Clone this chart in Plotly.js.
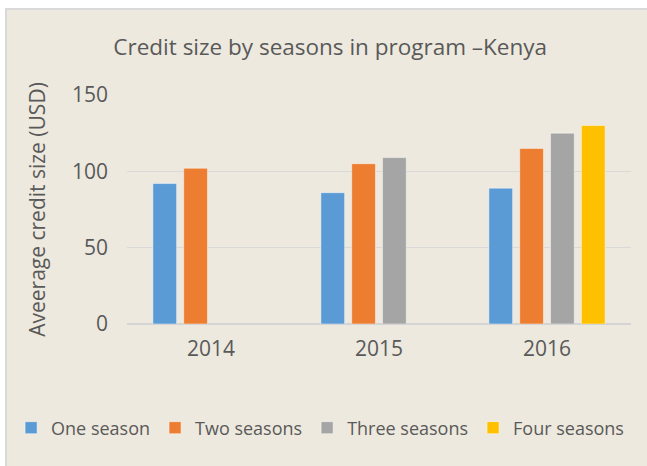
<!DOCTYPE html>
<html>
<head>
<meta charset="utf-8">
<script src="https://cdn.plot.ly/plotly-3.0.1.min.js"></script>
<style>
  html, body { margin: 0; padding: 0; background: #ffffff; width: 647px; height: 466px; overflow: hidden; }
  #frame { position: absolute; left: 5px; top: 8px; width: 642px; height: 458px;
           border-left: 2px solid #d9d9d9; border-top: 2px solid #d9d9d9; background: #EDE9DE; }
  #chart { width: 640px; height: 456px; }
</style>
</head>
<body>
<div id="frame"><div id="chart"></div></div>
<script>
const years = ['2014', '2015', '2016'];
const seriesNames = ['One season', 'Two seasons', 'Three seasons', 'Four seasons'];
const oneSeason = [92, 86, 89];
const twoSeasons = [102, 105, 115];
const threeSeasons = [null, 109, 125];
const fourSeasons = [null, null, 130];
const colors = ['#5B9BD5', '#ED7D31', '#A5A5A5', '#FFC000'];
const yTicks = [0, 50, 100, 150];

const values = [oneSeason, twoSeasons, threeSeasons, fourSeasons];
const font = "'Open Sans', 'Noto Sans', sans-serif";

const traces = values.map((v, i) => ({
  type: 'bar',
  name: seriesNames[i],
  x: years,
  y: v,
  marker: { color: colors[i], line: { color: 'rgba(255,255,255,0.45)', width: 1 } },
  hoverinfo: 'none'
}));

const layout = {
  width: 640, height: 456,
  paper_bgcolor: '#EDE9DE',
  plot_bgcolor: '#EDE9DE',
  margin: { l: 120, r: 16, t: 85, b: 142, autoexpand: false },
  font: { family: font, color: '#595959', size: 19 },
  title: {
    text: 'Credit size by seasons in program –Kenya',
    font: { family: font, size: 22.5, color: '#595959' },
    x: 0.505, xanchor: 'center', xref: 'container',
    y: 0.919, yanchor: 'middle', yref: 'container'
  },
  barmode: 'group',
  bargap: 0.266,
  bargroupgap: 0.23,
  xaxis: {
    type: 'category',
    showgrid: false, zeroline: false, showline: false, ticks: '',
    tickfont: { size: 21, color: '#595959' },
    ticklabelstandoff: 10
  },
  yaxis: {
    range: [0, 150],
    tickvals: yTicks,
    ticktext: yTicks.map(String),
    showgrid: true, gridcolor: '#D9D9D9', gridwidth: 1.5,
    zeroline: true, zerolinecolor: '#D4D4D4', zerolinewidth: 2,
    showline: false, ticks: '',
    tickfont: { size: 21, color: '#595959' },
    ticklabelstandoff: 18,
    title: { text: 'Aveerage credit size (USD)', font: { size: 21, color: '#595959' }, standoff: 20 }
  },
  showlegend: true,
  legend: {
    orientation: 'h',
    xref: 'paper', yref: 'paper',
    x: -0.23, xanchor: 'left',
    y: -0.454, yanchor: 'middle',
    font: { size: 18, color: '#595959' },
    bgcolor: 'rgba(0,0,0,0)',
    itemwidth: 30,
    traceorder: 'normal'
  }
};

Plotly.newPlot('chart', traces, layout, { displayModeBar: false, staticPlot: true });
</script>
</body>
</html>
